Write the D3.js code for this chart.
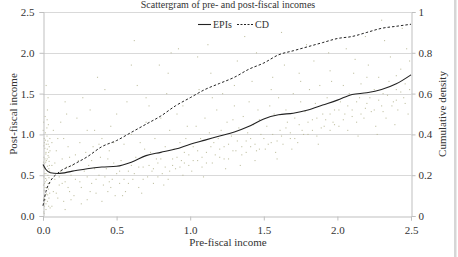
<!DOCTYPE html>
<html><head><meta charset="utf-8">
<script src="https://cdn.jsdelivr.net/npm/d3@7"></script>
<style>body{margin:0;background:#fff;}svg{display:block;font-family:"Liberation Serif","Times New Roman",serif;}svg text{font-family:"Liberation Serif","Times New Roman",serif !important;}</style>
</head><body><svg id="c" width="458" height="257"></svg>
<script>
const title = "Scattergram of pre- and post-fiscal incomes";
const xTicks = [0, 0.5, 1.0, 1.5, 2.0, 2.5];
const yTicks = [0, 0.5, 1.0, 1.5, 2.0, 2.5];
const y2Ticks = [0, 0.2, 0.4, 0.6, 0.8, 1];
const epiX = [0,0.02,0.05,0.1,0.2,0.3,0.4,0.5,0.6,0.7,0.8,0.9,1.0,1.1,1.2,1.3,1.4,1.5,1.6,1.7,1.8,1.9,2.0,2.1,2.2,2.3,2.4,2.5];
const epiY = [0.63,0.57,0.53,0.52,0.55,0.58,0.60,0.61,0.66,0.74,0.78,0.82,0.88,0.93,0.98,1.03,1.10,1.19,1.24,1.26,1.30,1.36,1.42,1.49,1.51,1.55,1.62,1.73];
const cdX = [0,0.02,0.05,0.1,0.2,0.3,0.4,0.5,0.6,0.7,0.8,0.9,1.0,1.1,1.2,1.3,1.4,1.5,1.6,1.7,1.8,1.9,2.0,2.1,2.2,2.3,2.4,2.5];
const cdY = [0.05,0.12,0.17,0.21,0.25,0.29,0.34,0.37,0.41,0.45,0.49,0.54,0.58,0.62,0.65,0.68,0.72,0.75,0.79,0.81,0.83,0.85,0.87,0.88,0.90,0.92,0.93,0.94];
const scatter = [
[0.005,0.05],[0.01,0.12],[0.02,0.08],[0.03,0.18],[0.012,0.25],[0.04,0.22],[0.008,0.31],[0.025,0.35],[0.045,0.28],[0.015,0.42],[0.035,0.40],[0.005,0.48],[0.02,0.52],[0.04,0.47],[0.01,0.58],[0.03,0.61],[0.018,0.66],[0.045,0.55],[0.006,0.72],[0.028,0.70],[0.038,0.78],[0.012,0.83],[0.022,0.88],[0.042,0.85],[0.008,0.95],[0.032,0.92],[0.016,1.02],[0.026,1.08],[0.004,1.15],[0.036,1.12],[0.014,1.22],[0.03,1.30],[0.02,0.15],[0.048,0.10],[0.003,0.38],[0.033,0.50],[0.024,0.44],[0.011,0.64],[0.041,0.67],[0.019,0.76],[0.009,0.90],[0.046,0.95],[0.027,0.98],[0.002,0.60],[0.037,0.33],[0.017,0.20],[0.044,0.40],[0.007,0.03],[0.023,0.27],[0.039,0.58],[0.013,0.70],[0.029,0.82],[0.001,1.05],[0.034,1.45],[0.021,1.60],
[0.004,0.22],[0.014,0.35],[0.026,0.56],[0.034,0.74],[0.006,0.86],[0.018,0.46],[0.043,0.62],[0.01,0.40],[0.031,0.26],[0.022,0.68],[0.047,0.80],[0.016,0.93],[0.028,1.18],[0.009,0.16],[0.038,0.12],[0.012,0.52],[0.04,0.72],[0.02,0.78],[0.003,0.66],[0.035,0.88],
[0.06,0.12],[0.07,0.30],[0.08,0.45],[0.06,0.62],[0.09,0.80],[0.1,0.22],[0.11,0.38],[0.12,0.55],[0.13,0.70],[0.1,0.95],[0.14,0.18],[0.15,0.42],[0.16,0.60],[0.17,0.85],[0.18,0.30],[0.19,0.50],[0.07,1.05],[0.12,1.15],[0.15,0.08],[0.18,0.72],[0.08,0.65],[0.11,0.48],[0.14,0.95],[0.17,0.35],[0.2,0.62],[0.09,0.28],[0.13,0.40],[0.16,1.25],[0.19,0.20],[0.06,0.90],
[0.21,0.25],[0.22,0.45],[0.24,0.68],[0.25,0.90],[0.26,0.35],[0.28,0.55],[0.29,0.78],[0.3,0.20],[0.31,0.62],[0.33,0.40],[0.34,0.85],[0.35,1.05],[0.36,0.28],[0.38,0.50],[0.39,0.72],[0.4,0.95],[0.41,0.38],[0.43,0.58],[0.44,0.30],[0.45,0.80],[0.46,1.10],[0.47,0.45],[0.48,0.65],[0.49,0.25],[0.23,1.20],[0.27,1.45],[0.32,1.30],[0.37,1.70],[0.42,1.55],[0.5,0.52],[0.26,0.15],[0.35,0.58],[0.44,0.70],[0.3,0.48],[0.4,0.18],[0.48,0.90],[0.22,0.75],[0.38,0.88],[0.45,0.42],[0.33,0.68],
[0.52,0.40],[0.53,0.68],[0.55,0.88],[0.56,0.30],[0.58,0.55],[0.6,1.00],[0.61,0.45],[0.63,0.72],[0.65,0.35],[0.66,0.90],[0.68,0.60],[0.7,1.15],[0.71,0.48],[0.73,0.78],[0.75,0.40],[0.76,0.95],[0.78,0.65],[0.8,1.20],[0.81,0.52],[0.83,0.85],[0.85,0.45],[0.86,1.05],[0.88,0.70],[0.9,0.58],[0.91,1.25],[0.93,0.90],[0.95,0.50],[0.96,0.78],[0.98,1.10],[0.99,0.62],[0.57,1.40],[0.64,1.60],[0.72,1.35],[0.79,1.85],[0.84,1.50],[0.92,2.05],[0.62,2.15],[0.87,2.00],[0.54,0.25],[0.67,0.28],[0.74,0.55],[0.82,0.38],[0.89,0.82],[0.97,0.95],[0.69,0.82],[0.77,0.70],[0.94,0.68],[0.6,0.62],
[1.01,0.55],[1.02,0.85],[1.04,1.10],[1.05,0.68],[1.07,0.95],[1.08,0.60],[1.1,1.20],[1.11,0.78],[1.13,1.02],[1.15,0.65],[1.16,0.90],[1.18,1.30],[1.2,0.72],[1.21,1.05],[1.23,0.85],[1.25,1.15],[1.26,0.70],[1.28,0.98],[1.3,1.35],[1.31,0.80],[1.33,1.08],[1.35,0.75],[1.36,1.22],[1.38,0.92],[1.4,1.40],[1.41,0.85],[1.43,1.12],[1.45,0.80],[1.46,1.30],[1.48,1.00],[1.06,1.55],[1.14,1.75],[1.22,1.50],[1.32,1.90],[1.42,1.65],[1.12,2.10],[1.37,2.20],[1.24,0.58],[1.44,0.68],[1.19,0.95],[1.29,1.18],[1.39,1.02],[1.09,0.48],[1.47,1.18],[1.34,0.62],
[1.51,0.82],[1.52,1.10],[1.54,1.35],[1.55,0.90],[1.57,1.25],[1.58,0.78],[1.6,1.45],[1.61,1.05],[1.63,0.88],[1.65,1.30],[1.66,1.15],[1.68,0.95],[1.7,1.50],[1.71,1.20],[1.73,0.90],[1.75,1.40],[1.76,1.05],[1.78,1.28],[1.8,1.00],[1.81,1.55],[1.83,1.18],[1.85,1.38],[1.86,0.98],[1.88,1.60],[1.9,1.25],[1.91,1.10],[1.93,1.45],[1.95,1.05],[1.96,1.65],[1.98,1.30],[1.56,1.70],[1.64,1.85],[1.74,1.75],[1.84,1.90],[1.94,2.00],[1.62,2.25],[1.79,2.10],[1.59,0.70],[1.69,0.82],[1.87,0.88],[1.97,1.15],
[2.01,1.10],[2.02,1.40],[2.04,1.60],[2.05,1.25],[2.07,1.05],[2.08,1.50],[2.1,1.30],[2.11,1.75],[2.13,1.15],[2.15,1.45],[2.16,1.62],[2.18,1.20],[2.2,1.38],[2.21,1.85],[2.23,1.28],[2.25,1.55],[2.26,1.10],[2.28,1.70],[2.3,1.35],[2.31,1.50],[2.33,1.20],[2.35,1.65],[2.36,1.95],[2.38,1.40],[2.4,1.55],[2.41,1.30],[2.43,1.80],[2.45,1.45],[2.46,1.62],[2.48,1.25],[2.49,1.90],[2.06,2.05],[2.19,2.20],[2.32,2.15],[2.44,2.30],[2.14,0.98],[2.27,1.00],[2.39,1.12],[2.47,2.05],[2.12,1.92],
[0.25,0.42],[0.32,0.30],[0.36,0.45],[0.42,0.48],[0.46,0.35],[0.52,0.55],[0.55,0.45],[0.58,0.40],[0.62,0.52],[0.65,0.60],[0.68,0.45],[0.72,0.62],[0.75,0.58],[0.78,0.48],[0.8,0.70],[0.83,0.60],[0.86,0.55],[0.88,0.62],[0.91,0.72],[0.93,0.60],[0.96,0.65],[0.99,0.75],[1.02,0.68],[1.05,0.80],[1.08,0.72],[1.11,0.65],[1.14,0.85],[1.17,0.75],[1.2,0.82],[1.23,0.70],[1.26,0.88],[1.29,0.80],[1.32,0.92],[1.35,0.85],[1.38,0.78],[1.41,0.95],[1.44,0.88],[1.47,0.82],[1.5,0.95],[1.53,0.88],[1.56,1.00],[1.59,0.92],[1.62,0.98],[1.65,1.08],[1.68,1.02],[1.71,0.95],[1.74,1.12],[1.77,1.00],[1.8,1.15],[1.83,1.05],[1.86,1.20],[1.89,1.08],[1.92,1.18],[1.95,1.25],[1.98,1.12],[2.01,1.30],[2.04,1.18],[2.07,1.35],[2.1,1.22],[2.13,1.40],[2.16,1.25],[2.19,1.32],[2.22,1.45],[2.25,1.30],[2.28,1.42],[2.31,1.28],[2.34,1.48],[2.37,1.35],[2.4,1.42],[2.43,1.52],[2.46,1.38],[2.49,1.55],
[0.5,1.25],[0.7,1.45],[0.95,1.35],[1.15,1.45],[1.3,1.60],[1.55,1.55],[1.75,1.65],[1.95,1.78],[2.2,1.70],[2.4,1.72],[0.15,1.40],[0.3,1.05],[0.85,1.75],[1.45,2.00],[2.3,2.40],[0.6,1.85],[1.05,1.95]
];

const svg = d3.select("#c");
const SERIF = '"Liberation Serif","Times New Roman",serif';
const L = 43, R = 411, T = 12, B = 216;
const x = d3.scaleLinear().domain([0, 2.5]).range([L, R]);
const y = d3.scaleLinear().domain([0, 2.5]).range([B, T]);
const y2 = d3.scaleLinear().domain([0, 1]).range([B, T]);
const fs = 11, tc = "#333";

// right frame edge
svg.append("rect").attr("x", 454).attr("y", 0).attr("width", 2.5).attr("height", 257).attr("fill", "#d6d6d6");

// gridlines
svg.append("g").selectAll("line").data(yTicks.slice(1)).join("line")
  .attr("x1", L).attr("x2", R).attr("y1", d => Math.round(y(d)) + 0.5).attr("y2", d => Math.round(y(d)) + 0.5)
  .attr("stroke", "#d9d9d9").attr("stroke-width", 1);

// scatter
svg.append("g").selectAll("rect").data(scatter).join("rect")
  .attr("x", d => x(d[0]) - 0.5).attr("y", d => y(d[1]) - 0.5)
  .attr("width", 1.1).attr("height", 1.1).attr("fill", "#b3b38e").attr("opacity", 0.8);

// axes
const gx = svg.append("g").attr("transform", `translate(0,${B + 0.5})`)
  .call(d3.axisBottom(x).tickValues(xTicks).tickFormat(d3.format(".1f")).tickSize(4).tickPadding(6));
const gy = svg.append("g").attr("transform", `translate(${L + 0.5},0)`)
  .call(d3.axisLeft(y).tickValues(yTicks).tickFormat(d3.format(".1f")).tickSize(4).tickPadding(5));
const gy2 = svg.append("g").attr("transform", `translate(${R + 0.5},0)`)
  .call(d3.axisRight(y2).tickValues(y2Ticks).tickFormat(d => d === 0 || d === 1 ? String(d) : d3.format(".1f")(d)).tickSize(4).tickPadding(3));
[gx, gy, gy2].forEach(g => {
  g.attr("font-family", SERIF).attr("font-size", fs);
  g.select(".domain").attr("stroke", "#bfbfbf");
  g.selectAll(".tick line").attr("stroke", "#bfbfbf");
  g.selectAll(".tick text").attr("fill", tc).attr("font-family", SERIF).style("font-size", fs + "px");
});

// lines
const lineFn = d3.line().curve(d3.curveMonotoneX);
svg.append("path").attr("d", lineFn(epiX.map((v, i) => [x(v), y(epiY[i])])))
  .attr("fill", "none").attr("stroke", "#222").attr("stroke-width", 1.1);
svg.append("path").attr("d", lineFn(cdX.map((v, i) => [x(v), y2(cdY[i])])))
  .attr("fill", "none").attr("stroke", "#222").attr("stroke-width", 1).attr("stroke-dasharray", "2.5,2");

// title
svg.append("text").attr("x", 228).attr("y", 8).attr("text-anchor", "middle").attr("fill", tc)
  .attr("font-family", SERIF).style("font-size", "10px").text(title);

// legend
const lg = svg.append("g").attr("font-family", SERIF);
lg.append("line").attr("x1", 198).attr("x2", 211).attr("y1", 24.5).attr("y2", 24.5).attr("stroke", "#222").attr("stroke-width", 1.1);
lg.append("text").attr("x", 213).attr("y", 28).attr("fill", tc).style("font-size", "10px").text("EPIs");
lg.append("line").attr("x1", 237).attr("x2", 253).attr("y1", 24.5).attr("y2", 24.5).attr("stroke", "#222").attr("stroke-dasharray", "2,1.5");
lg.append("text").attr("x", 255).attr("y", 28).attr("fill", tc).style("font-size", "10px").text("CD");

// axis titles
svg.append("text").attr("x", 228).attr("y", 246).attr("text-anchor", "middle").attr("fill", tc)
  .attr("font-family", SERIF).style("font-size", fs + "px").text("Pre-fiscal income");
svg.append("text").attr("transform", "translate(17,114) rotate(-90)").attr("text-anchor", "middle").attr("fill", tc)
  .attr("font-family", SERIF).style("font-size", fs + "px").text("Post-fiscal income");
svg.append("text").attr("transform", "translate(446,114) rotate(-90)").attr("text-anchor", "middle").attr("fill", tc)
  .attr("font-family", SERIF).style("font-size", fs + "px").text("Cumulative density");
</script></body></html>
